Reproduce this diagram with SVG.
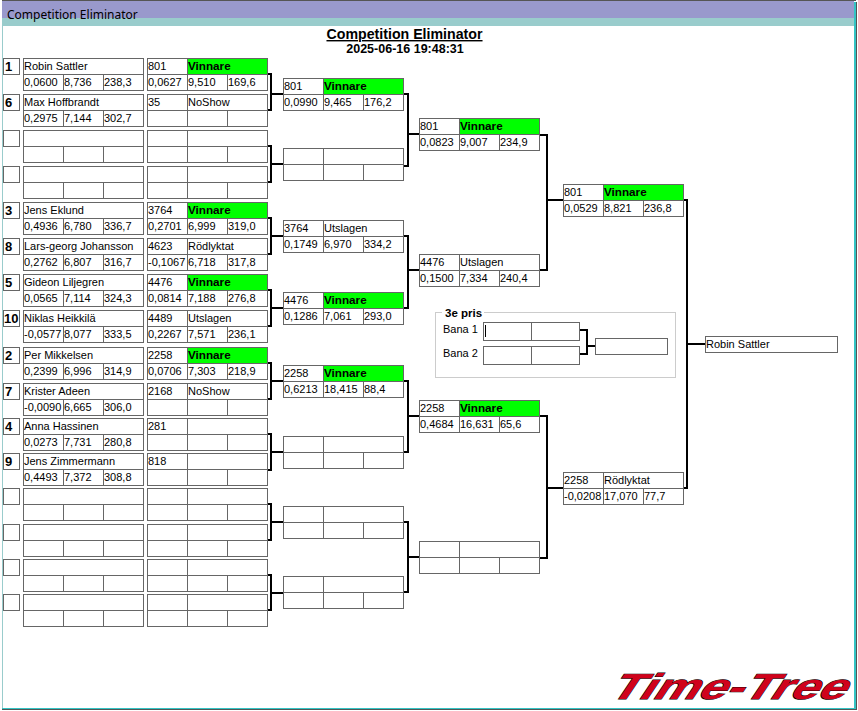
<svg xmlns="http://www.w3.org/2000/svg" xmlns:xlink="http://www.w3.org/1999/xlink" width="858" height="711" viewBox="0 0 858 711">
<style>
text{font-family:"Liberation Sans",Arial,sans-serif;font-size:11px;fill:#000}
.b{fill:#fff;stroke:#666;stroke-width:1}
.l{stroke:#666;stroke-width:1;fill:none}
.g{fill:#0f0}
.w{font-weight:bold;font-size:11.7px}
.s{font-weight:bold;font-size:13px}
.c{fill:none;stroke:#000;stroke-width:2}
.t{font-weight:bold;text-anchor:middle}
</style>
<defs>
<g id="ent"><rect class="b" x="0.5" y="0.5" width="120" height="32"/><path class="l" d="M0 16.5H121M40.5 16V33M80.5 16V33"/></g>
<g id="res"><rect class="b" x="0.5" y="0.5" width="120" height="32"/><path class="l" d="M0 16.5H121M40.5 0V33M80.5 16V33"/></g>
<rect id="seed" class="b" x="0.5" y="0.5" width="16" height="16"/>
<rect id="win" class="g" x="41" y="1" width="79" height="15"/>
</defs>
<rect id="background" width="858" height="711" fill="#fff"/>
<g id="window">
<rect x="2" y="0" width="854" height="1" fill="#555"/>
<rect x="2" y="1" width="852" height="17" fill="#9999cc"/>
<rect x="2" y="18" width="852" height="8" fill="#99cccc"/>
<rect x="2" y="26" width="1" height="682" fill="#99cccc"/>
<rect x="854" y="2" width="2" height="706" fill="#33c4c4"/>
<rect x="856" y="2" width="1" height="708" fill="#555"/>
<rect x="2" y="708" width="854" height="1" fill="#33c4c4"/>
<rect x="2" y="709" width="855" height="1" fill="#555"/>
<text x="7" y="19" style="font-family:'Noto Sans','Open Sans',sans-serif;font-size:12px">Competition Eliminator</text>
</g>
<g id="header">
<text class="t" x="404.500" y="39" style="font-size:14.200px;text-decoration:underline">Competition Eliminator</text>
<text class="t" x="405" y="53" style="font-size:12.500px">2025-06-16 19:48:31</text>
</g>
<g id="connectors" class="c">
<path class="c" d="M267 74H271V110H267M271 94H283"/>
<path class="c" d="M267 146H271V182H267M271 164H283"/>
<path class="c" d="M267 218H271V254H267M271 236H283"/>
<path class="c" d="M267 290H271V326H267M271 308H283"/>
<path class="c" d="M267 363H271V399H267M271 381H283"/>
<path class="c" d="M267 434H271V470H267M271 452H283"/>
<path class="c" d="M267 504H271V540H267M271 522H283"/>
<path class="c" d="M267 575H271V610H267M271 593H283"/>
<path class="c" d="M403 94H408V166H403M408 134H419"/>
<path class="c" d="M403 236H408V308H403M408 270H419"/>
<path class="c" d="M403 381H408V452H403M408 416H419"/>
<path class="c" d="M403 522H408V592H403M408 557H419"/>
<path class="c" d="M539 135H547V270H539M547 200H563"/>
<path class="c" d="M539 416H547V558H539M547 488H563"/>
<path class="c" d="M683 200H687V488H683M687 344H705"/>
<path class="c" d="M580 330H587V354H580M587 346H595"/>
</g>
<g id="e1"><use href="#seed" x="3" y="58"/><use href="#ent" x="23" y="58"/><text class="s" x="5" y="71">1</text><text x="24" y="70">Robin Sattler</text><text x="24" y="86">0,0600</text><text x="64" y="86">8,736</text><text x="104" y="86">238,3</text></g>
<g id="e2"><use href="#seed" x="3" y="94"/><use href="#ent" x="23" y="94"/><text class="s" x="5" y="107">6</text><text x="24" y="106">Max Hoffbrandt</text><text x="24" y="122">0,2975</text><text x="64" y="122">7,144</text><text x="104" y="122">302,7</text></g>
<g id="e3"><use href="#seed" x="3" y="130"/><use href="#ent" x="23" y="130"/></g>
<g id="e4"><use href="#seed" x="3" y="166"/><use href="#ent" x="23" y="166"/></g>
<g id="e5"><use href="#seed" x="3" y="202"/><use href="#ent" x="23" y="202"/><text class="s" x="5" y="215">3</text><text x="24" y="214">Jens Eklund</text><text x="24" y="230">0,4936</text><text x="64" y="230">6,780</text><text x="104" y="230">336,7</text></g>
<g id="e6"><use href="#seed" x="3" y="238"/><use href="#ent" x="23" y="238"/><text class="s" x="5" y="251">8</text><text x="24" y="250">Lars-georg Johansson</text><text x="24" y="266">0,2762</text><text x="64" y="266">6,807</text><text x="104" y="266">316,7</text></g>
<g id="e7"><use href="#seed" x="3" y="274"/><use href="#ent" x="23" y="274"/><text class="s" x="5" y="287">5</text><text x="24" y="286">Gideon Liljegren</text><text x="24" y="302">0,0565</text><text x="64" y="302">7,114</text><text x="104" y="302">324,3</text></g>
<g id="e8"><use href="#seed" x="3" y="310"/><use href="#ent" x="23" y="310"/><text class="s" x="4" y="323">10</text><text x="24" y="322">Niklas Heikkilä</text><text x="24" y="338">-0,0577</text><text x="64" y="338">8,077</text><text x="104" y="338">333,5</text></g>
<g id="e9"><use href="#seed" x="3" y="347"/><use href="#ent" x="23" y="347"/><text class="s" x="5" y="360">2</text><text x="24" y="359">Per Mikkelsen</text><text x="24" y="375">0,2399</text><text x="64" y="375">6,996</text><text x="104" y="375">314,9</text></g>
<g id="e10"><use href="#seed" x="3" y="383"/><use href="#ent" x="23" y="383"/><text class="s" x="5" y="396">7</text><text x="24" y="395">Krister Adeen</text><text x="24" y="411">-0,0090</text><text x="64" y="411">6,665</text><text x="104" y="411">306,0</text></g>
<g id="e11"><use href="#seed" x="3" y="418"/><use href="#ent" x="23" y="418"/><text class="s" x="5" y="431">4</text><text x="24" y="430">Anna Hassinen</text><text x="24" y="446">0,0273</text><text x="64" y="446">7,731</text><text x="104" y="446">280,8</text></g>
<g id="e12"><use href="#seed" x="3" y="453"/><use href="#ent" x="23" y="453"/><text class="s" x="5" y="466">9</text><text x="24" y="465">Jens Zimmermann</text><text x="24" y="481">0,4493</text><text x="64" y="481">7,372</text><text x="104" y="481">308,8</text></g>
<g id="e13"><use href="#seed" x="3" y="488"/><use href="#ent" x="23" y="488"/></g>
<g id="e14"><use href="#seed" x="3" y="524"/><use href="#ent" x="23" y="524"/></g>
<g id="e15"><use href="#seed" x="3" y="559"/><use href="#ent" x="23" y="559"/></g>
<g id="e16"><use href="#seed" x="3" y="594"/><use href="#ent" x="23" y="594"/></g>

<g id="q1"><use href="#res" x="147" y="58"/><use href="#win" x="147" y="58"/><text x="148" y="70">801</text><text class="w" x="188" y="70">Vinnare</text><text x="148" y="86">0,0627</text><text x="188" y="86">9,510</text><text x="228" y="86">169,6</text></g>
<g id="q2"><use href="#res" x="147" y="94"/><text x="148" y="106">35</text><text x="188" y="106">NoShow</text></g>
<g id="q3"><use href="#res" x="147" y="130"/></g>
<g id="q4"><use href="#res" x="147" y="166"/></g>
<g id="q5"><use href="#res" x="147" y="202"/><use href="#win" x="147" y="202"/><text x="148" y="214">3764</text><text class="w" x="188" y="214">Vinnare</text><text x="148" y="230">0,2701</text><text x="188" y="230">6,999</text><text x="228" y="230">319,0</text></g>
<g id="q6"><use href="#res" x="147" y="238"/><text x="148" y="250">4623</text><text x="188" y="250">Rödlyktat</text><text x="148" y="266">-0,1067</text><text x="188" y="266">6,718</text><text x="228" y="266">317,8</text></g>
<g id="q7"><use href="#res" x="147" y="274"/><use href="#win" x="147" y="274"/><text x="148" y="286">4476</text><text class="w" x="188" y="286">Vinnare</text><text x="148" y="302">0,0814</text><text x="188" y="302">7,188</text><text x="228" y="302">276,8</text></g>
<g id="q8"><use href="#res" x="147" y="310"/><text x="148" y="322">4489</text><text x="188" y="322">Utslagen</text><text x="148" y="338">0,2267</text><text x="188" y="338">7,571</text><text x="228" y="338">236,1</text></g>
<g id="q9"><use href="#res" x="147" y="347"/><use href="#win" x="147" y="347"/><text x="148" y="359">2258</text><text class="w" x="188" y="359">Vinnare</text><text x="148" y="375">0,0706</text><text x="188" y="375">7,303</text><text x="228" y="375">218,9</text></g>
<g id="q10"><use href="#res" x="147" y="383"/><text x="148" y="395">2168</text><text x="188" y="395">NoShow</text></g>
<g id="q11"><use href="#res" x="147" y="418"/><text x="148" y="430">281</text></g>
<g id="q12"><use href="#res" x="147" y="453"/><text x="148" y="465">818</text></g>
<g id="q13"><use href="#res" x="147" y="488"/></g>
<g id="q14"><use href="#res" x="147" y="524"/></g>
<g id="q15"><use href="#res" x="147" y="559"/></g>
<g id="q16"><use href="#res" x="147" y="594"/></g>

<g id="r1"><use href="#res" x="283" y="78"/><use href="#win" x="283" y="78"/><text x="284" y="90">801</text><text class="w" x="324" y="90">Vinnare</text><text x="284" y="106">0,0990</text><text x="324" y="106">9,465</text><text x="364" y="106">176,2</text></g>
<g id="r2"><use href="#res" x="283" y="148"/></g>
<g id="r3"><use href="#res" x="283" y="220"/><text x="284" y="232">3764</text><text x="324" y="232">Utslagen</text><text x="284" y="248">0,1749</text><text x="324" y="248">6,970</text><text x="364" y="248">334,2</text></g>
<g id="r4"><use href="#res" x="283" y="292"/><use href="#win" x="283" y="292"/><text x="284" y="304">4476</text><text class="w" x="324" y="304">Vinnare</text><text x="284" y="320">0,1286</text><text x="324" y="320">7,061</text><text x="364" y="320">293,0</text></g>
<g id="r5"><use href="#res" x="283" y="365"/><use href="#win" x="283" y="365"/><text x="284" y="377">2258</text><text class="w" x="324" y="377">Vinnare</text><text x="284" y="393">0,6213</text><text x="324" y="393">18,415</text><text x="364" y="393">88,4</text></g>
<g id="r6"><use href="#res" x="283" y="436"/></g>
<g id="r7"><use href="#res" x="283" y="506"/></g>
<g id="r8"><use href="#res" x="283" y="576"/></g>

<g id="s1"><use href="#res" x="419" y="118"/><use href="#win" x="419" y="118"/><text x="420" y="130">801</text><text class="w" x="460" y="130">Vinnare</text><text x="420" y="146">0,0823</text><text x="460" y="146">9,007</text><text x="500" y="146">234,9</text></g>
<g id="s2"><use href="#res" x="419" y="254"/><text x="420" y="266">4476</text><text x="460" y="266">Utslagen</text><text x="420" y="282">0,1500</text><text x="460" y="282">7,334</text><text x="500" y="282">240,4</text></g>
<g id="s3"><use href="#res" x="419" y="400"/><use href="#win" x="419" y="400"/><text x="420" y="412">2258</text><text class="w" x="460" y="412">Vinnare</text><text x="420" y="428">0,4684</text><text x="460" y="428">16,631</text><text x="500" y="428">65,6</text></g>
<g id="s4"><use href="#res" x="419" y="541"/></g>

<g id="t1"><use href="#res" x="563" y="184"/><use href="#win" x="563" y="184"/><text x="564" y="196">801</text><text class="w" x="604" y="196">Vinnare</text><text x="564" y="212">0,0529</text><text x="604" y="212">8,821</text><text x="644" y="212">236,8</text></g>
<g id="t2"><use href="#res" x="563" y="472"/><text x="564" y="484">2258</text><text x="604" y="484">Rödlyktat</text><text x="564" y="500">-0,0208</text><text x="604" y="500">17,070</text><text x="644" y="500">77,7</text></g>

<g id="final"><rect class="b" x="705.500" y="336.500" width="132" height="16"/><text x="706" y="348">Robin Sattler</text></g>

<g id="third-place">
<rect x="435.500" y="312.500" width="240" height="65" fill="none" stroke="#ccc"/>
<rect x="442" y="308" width="42" height="9" fill="#fff"/>
<text x="445" y="317" style="font-weight:bold;font-size:11.500px">3e pris</text>
<text x="443" y="333">Bana 1</text>
<text x="443" y="357">Bana 2</text>
<g id="bana1"><rect class="b" x="483.500" y="322.500" width="96" height="18"/><path class="l" d="M531.500 322V341"/><path d="M485.500 325V337" stroke="#000" fill="none"/></g>
<g id="bana2"><rect class="b" x="483.500" y="346.500" width="96" height="18"/><path class="l" d="M531.500 346V365"/></g>
<g id="third-result"><rect class="b" x="595.500" y="338.500" width="72" height="16"/></g>
</g>
<g id="logo"><text x="0" y="0" transform="translate(607 699) skewX(-34)" textLength="236" lengthAdjust="spacingAndGlyphs" stroke="#000" stroke-width="1" paint-order="stroke" style="font-weight:bold;font-size:36px;fill:#d0021b">Time-Tree</text></g>
</svg>
